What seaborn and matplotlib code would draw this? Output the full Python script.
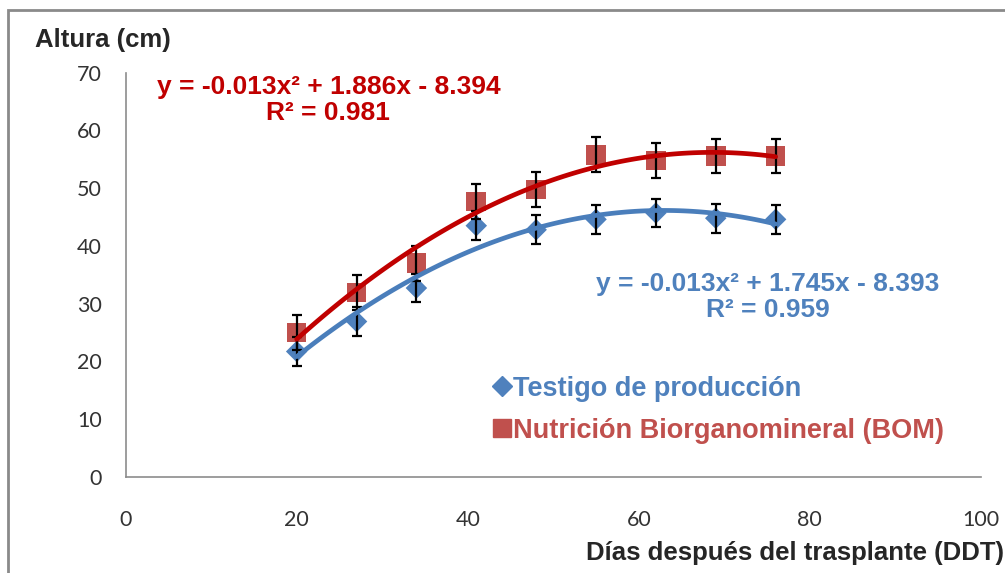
import numpy as np
import pandas as pd
import matplotlib
matplotlib.use("Agg")
from matplotlib import pyplot as plt
from matplotlib.lines import Line2D
from matplotlib.patches import Rectangle
import seaborn as sns

# datos
dias = [20, 27, 34, 41, 48, 55, 62, 69, 76]
testigo = [21.7, 26.9, 32.7, 43.5, 42.8, 44.6, 45.7, 44.8, 44.6]
bom = [25.0, 31.9, 37.0, 47.7, 49.8, 55.8, 54.8, 55.6, 55.6]
err_testigo = [2.5] * 9
err_bom = [3.0] * 9

lbl_testigo = "Testigo de producción"
lbl_bom = "Nutrición Biorganomineral (BOM)"
eq_testigo = "y = -0.013x² + 1.745x - 8.393\nR² = 0.959"
eq_bom = "y = -0.013x² + 1.886x - 8.394\nR² = 0.981"

azul_marc = "#4f81bd"
rojo_marc = "#c0504d"
azul_lin = "#4a7ebb"
rojo_lin = "#c00000"

df = pd.DataFrame({"dias": dias, "testigo": testigo, "bom": bom})

sns.set_style("white")
plt.rcParams["font.family"] = ["Liberation Sans", "DejaVu Sans"]

fig = plt.figure(figsize=(10.05, 5.73), dpi=100)
ax = fig.add_axes([0.125, 0.168, 0.851, 0.705])

# barras de error
ax.errorbar(dias, testigo, yerr=err_testigo, fmt="none", ecolor="black",
            elinewidth=1.6, capsize=3.8, capthick=1.6, zorder=3)
ax.errorbar(dias, bom, yerr=err_bom, fmt="none", ecolor="black",
            elinewidth=1.6, capsize=3.8, capthick=1.6, zorder=3)

sns.scatterplot(data=df, x="dias", y="testigo", marker="D", s=120,
                color=azul_marc, edgecolor="none", ax=ax, zorder=2)
sns.scatterplot(data=df, x="dias", y="bom", marker="s", s=200,
                color=rojo_marc, edgecolor="none", ax=ax, zorder=2)

# lineas de tendencia polinomica
sns.regplot(data=df, x="dias", y="testigo", order=2, ci=None, scatter=False,
            ax=ax, line_kws={"color": azul_lin, "lw": 3.4, "zorder": 4})
sns.regplot(data=df, x="dias", y="bom", order=2, ci=None, scatter=False,
            ax=ax, line_kws={"color": rojo_lin, "lw": 3.4, "zorder": 4})

ax.set_xlim(0, 100)
ax.set_ylim(0, 70)
ax.set_xticks(range(0, 101, 20))
ax.set_yticks(range(0, 71, 10))
ax.set_xlabel("")
ax.set_ylabel("")
sns.despine(ax=ax)
for s in ["left", "bottom"]:
    ax.spines[s].set_color("#8c8c8c")
    ax.spines[s].set_linewidth(1.2)
ax.tick_params(axis="both", direction="out", length=6, width=1.2,
               color="#8c8c8c", labelsize=15.5, labelcolor="#333333")
ax.tick_params(axis="x", pad=18)
ax.tick_params(axis="y", pad=11)
for t in ax.get_xticklabels() + ax.get_yticklabels():
    t.set_family(["Lato", "DejaVu Sans"])

ax.text(23.7, 65.3, eq_bom, color=rojo_lin, fontsize=19, fontweight="bold",
        ha="center", va="center", linespacing=1.1)
ax.text(75.1, 31.1, eq_testigo, color=azul_marc, fontsize=19,
        fontweight="bold", ha="center", va="center", linespacing=1.1)

handles = [
    Line2D([], [], marker="D", color=azul_marc, ls="none", markersize=10),
    Line2D([], [], marker="s", color=rojo_marc, ls="none", markersize=13),
]
leg = ax.legend(handles, [lbl_testigo, lbl_bom], loc="center left",
                bbox_to_anchor=(0.43, 0.166), frameon=False,
                borderaxespad=0, borderpad=0,
                handlelength=0.6, handletextpad=0.12, labelspacing=0.6,
                prop={"size": 19.5, "weight": "bold"})
for txt, c in zip(leg.get_texts(), [azul_marc, rojo_marc]):
    txt.set_color(c)

fig.text(0.035, 0.93, "Altura (cm)", fontsize=18.5, fontweight="bold",
         ha="left", va="center")
fig.text(0.9995, 0.035, "Días después del trasplante (DDT)", fontsize=18.5,
         fontweight="bold", ha="right", va="center")

fig.patches.append(Rectangle((0.008, -0.05), 1.1, 1.032,
                             transform=fig.transFigure, fill=False,
                             edgecolor="#8a8a8a", lw=2))

plt.savefig("out.png", dpi=100)
